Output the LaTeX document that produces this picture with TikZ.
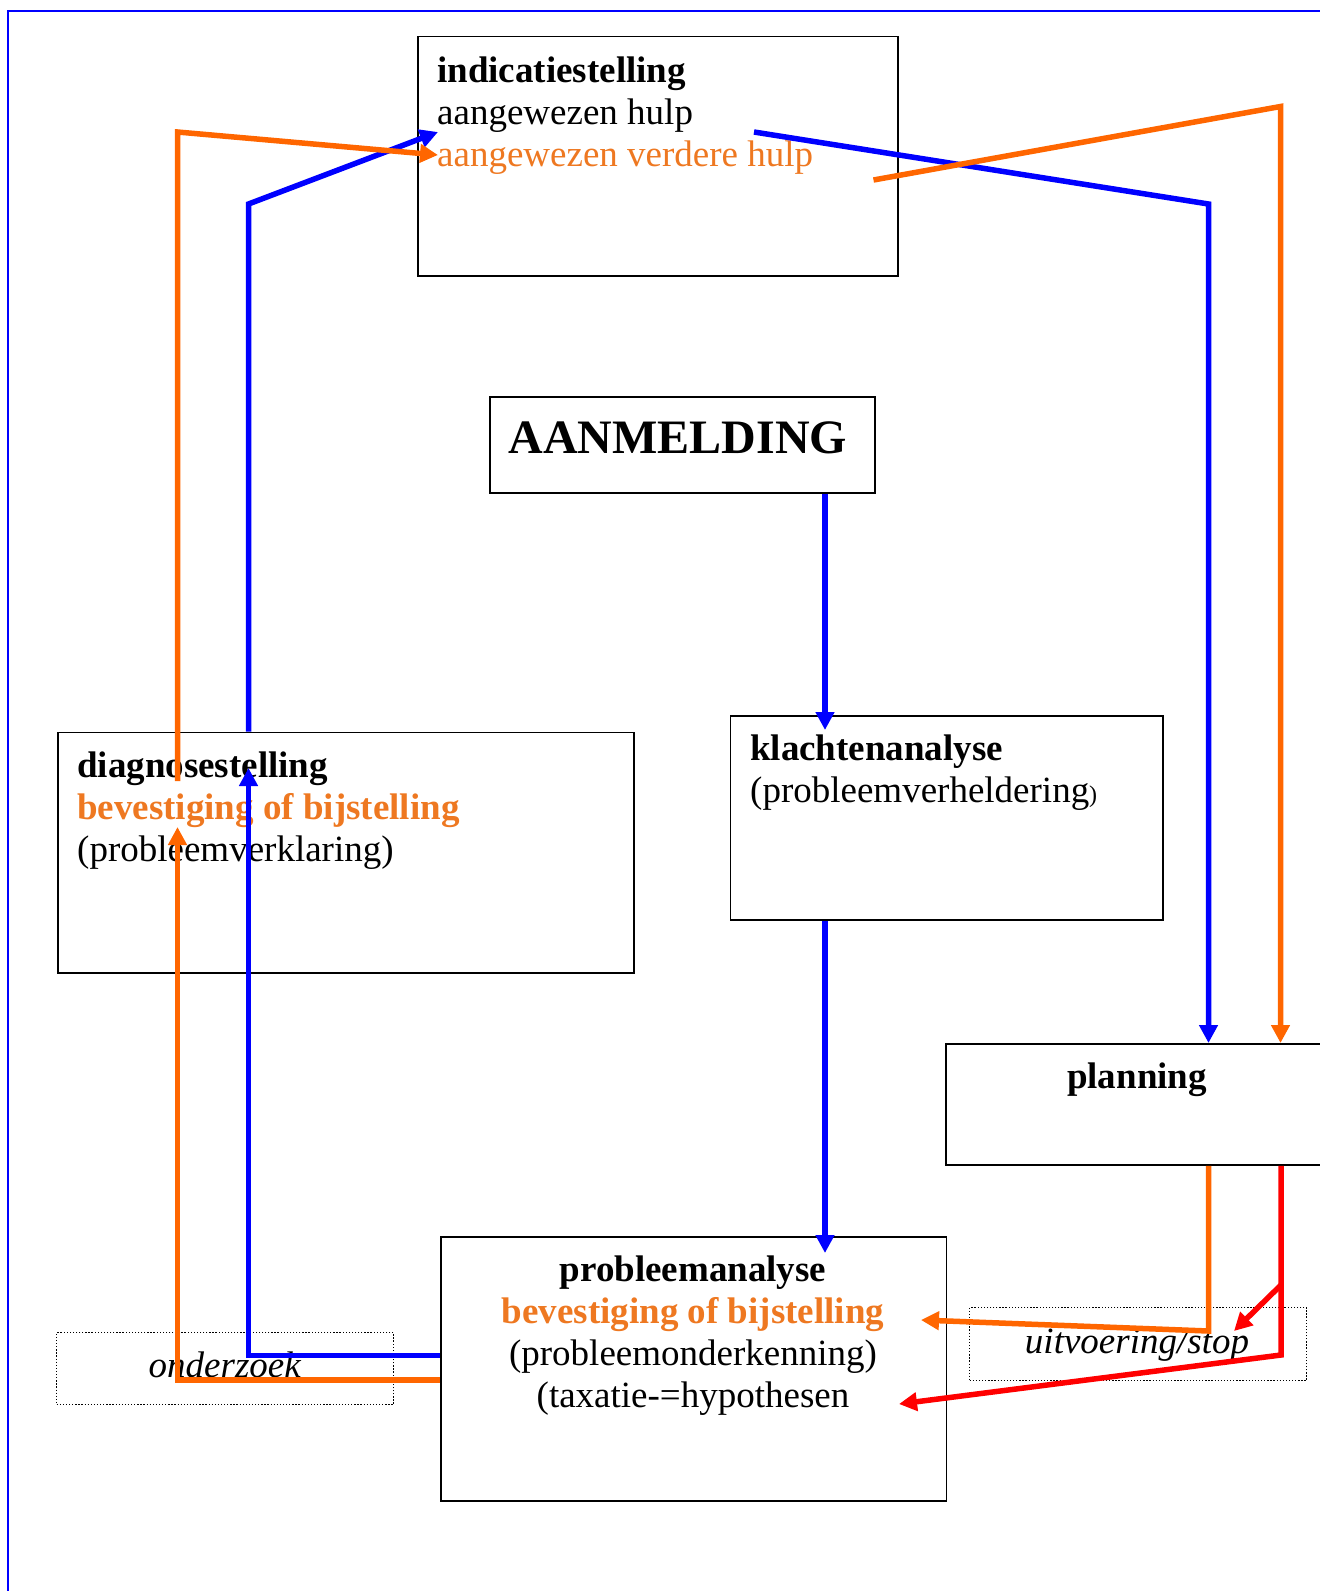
\documentclass[tikz,border=0pt]{standalone}
\usepackage{fontspec}
\setmainfont{Liberation Serif}
\usepackage{xcolor}
\usetikzlibrary{arrows.meta}
\definecolor{flowblue}{RGB}{0,0,255}
\definecolor{floworange}{RGB}{255,102,0}
\definecolor{flowred}{RGB}{255,0,0}
\definecolor{textorange}{RGB}{238,120,33}

\tikzset{
  box/.style={draw,rectangle,line width=1.9pt,inner sep=0pt,anchor=north west},
  dotbox/.style={draw,rectangle,line width=1.3pt,dash pattern=on 1.3pt off 1.8pt,inner sep=0pt,anchor=north west},
  txt/.style={inner sep=0pt,font=\fontsize{37}{42.3}\selectfont},
  conn/.style={line width=5.5pt,-{Triangle[length=18pt,width=18pt]}}
}

\begin{document}
\begin{tikzpicture}[x=1pt,y=-1pt]
\useasboundingbox (0,0) rectangle (1320,1591);
% Page frame
\draw[flowblue,line width=2pt] (8,1620) -- (8,11) -- (1340,11);

% Boxes
\node[box,minimum width=480pt,minimum height=239.5pt] (indic) at (417,35.5) {};
\node[box,minimum width=385pt,minimum height=96pt] (aanm) at (489,396) {};
\node[box,minimum width=432.5pt,minimum height=204pt] (klacht) at (729.5,715) {};
\node[box,minimum width=576pt,minimum height=240.5pt] (diagn) at (57,731.5) {};
\node[box,minimum width=400pt,minimum height=121pt] (plan) at (945,1043) {};
\node[box,minimum width=505.5pt,minimum height=264pt] (probl) at (440,1236) {};
\node[dotbox,minimum width=337pt,minimum height=72pt] (onderz) at (56,1332) {};
\node[dotbox,minimum width=337pt,minimum height=73pt] (uitv) at (969,1307) {};

% Box texts
\node[txt,anchor=base west] (indic-t) at (437,82) {
\begin{minipage}[t]{450pt}
\textbf{indicatiestelling}\\
aangewezen hulp\\
\textcolor{textorange}{aangewezen verdere hulp}
\end{minipage}
};
\node[txt,anchor=base] (aanm-t) at (678,453) {\fontsize{48}{50}\selectfont\textbf{AANMELDING}};
\node[txt,anchor=base west] (klacht-t) at (750,760) {
\begin{minipage}[t]{400pt}
\textbf{klachtenanalyse}\\
(probleemverheldering{\fontsize{24}{24}\selectfont)}
\end{minipage}
};
\node[txt,anchor=base west] (diagn-t) at (77,777) {
\begin{minipage}[t]{540pt}
\textbf{diagnosestelling}\\
\textcolor{textorange}{\textbf{bevestiging of bijstelling}}\\
(probleemverklaring)
\end{minipage}
};
\node[txt,anchor=base] (plan-t) at (1137,1088) {\textbf{planning}};
\node[txt,anchor=base] (probl-t) at (693,1281) {
\begin{minipage}[t]{480pt}
\centering
\textbf{probleemanalyse}\\
\textcolor{textorange}{\textbf{bevestiging of bijstelling}}\\
(probleemonderkenning)\\
(taxatie-=hypothesen
\end{minipage}
};
\node[txt,anchor=base] (onderz-t) at (225,1377) {\textit{onderzoek}};
\node[txt,anchor=base] (uitv-t) at (1137,1353) {\textit{uitvoering/stop}};

% Blue connections
\coordinate (bx) at (825,0);
\draw[conn,flowblue,shorten >=-15pt] (aanm.south -| bx) -- (klacht.north -| bx);
\draw[conn,flowblue,shorten >=-17pt] (klacht.south -| bx) -- (probl.north -| bx);
\coordinate (ba) at (248.5,1355.5);
\coordinate (bb) at (248.5,768);
\draw[conn,flowblue] (probl.west |- ba) -- (ba) -- (bb);
\coordinate (bc) at (248.5,204);
\coordinate (bd) at (438,132);
\draw[conn,flowblue] (diagn.north -| bc) -- (bc) -- (bd);
\coordinate (be) at (754,132);
\coordinate (bf) at (1208.5,204);
\draw[conn,flowblue] (be) -- (bf) -- (plan.north -| bf);

% Orange connections
\coordinate (oa) at (177.5,1380);
\coordinate (ob) at (177.5,827);
\draw[conn,floworange] (probl.west |- oa) -- (oa) -- (ob);
\coordinate (oc) at (177.5,781);
\coordinate (od) at (177.5,132);
\coordinate (oe) at (438,155);
\draw[conn,floworange] (oc) -- (od) -- (oe);
\coordinate (of) at (873.5,180);
\coordinate (og) at (1280.5,106.5);
\draw[conn,floworange] (of) -- (og) -- (plan.north -| og);
\coordinate (oh) at (1208.5,1331);
\coordinate (oi) at (921,1320);
\draw[conn,floworange] (plan.south -| oh) -- (oh) -- (oi);

% Red connections
\coordinate (ra) at (1281,1355);
\coordinate (rb) at (899,1404);
\draw[conn,flowred] (plan.south -| ra) -- (ra) -- (rb);
\coordinate (rc) at (1281,1285);
\coordinate (rd) at (1234,1331);
\draw[conn,flowred] (rc) -- (rd);
\end{tikzpicture}
\end{document}
